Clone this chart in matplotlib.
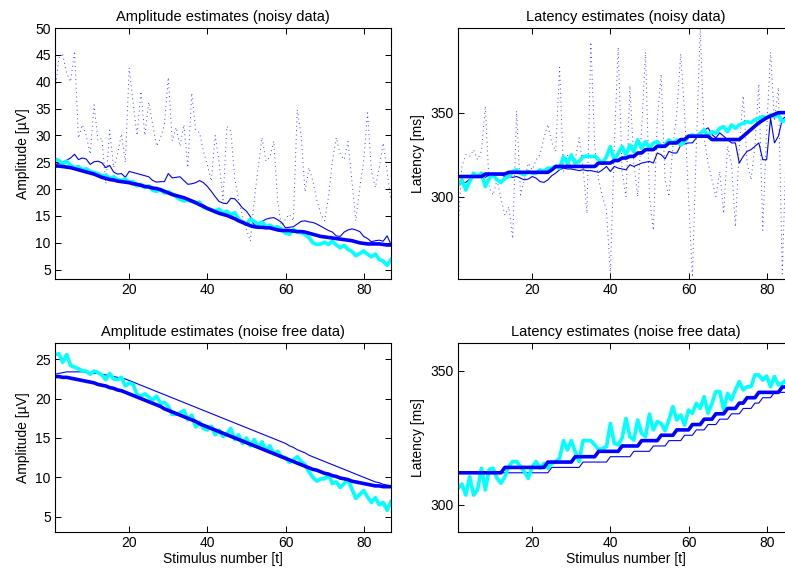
import numpy as np
import matplotlib
matplotlib.use("Agg")
import matplotlib.pyplot as plt

plt.rcParams['font.family'] = ['Liberation Sans', 'DejaVu Sans']
plt.rcParams['font.size'] = 10

stim = np.arange(1, 88)

# --- amplitude, noisy data ---
amp_noisy_raw = [38, 44.5, 45, 41.5, 40, 45.7, 29.5, 32, 30, 26.5,
                 35.7, 29, 29.5, 21, 31, 24, 26.5, 30.3, 25, 42.6,
                 36, 30, 38.2, 30, 36.2, 32, 28, 29.5, 32, 40.8,
                 29, 31.5, 28, 32, 24, 37.9, 31, 30.5, 27, 24.5,
                 21.5, 30, 25, 18, 31.7, 30.8, 22, 18, 15, 12.5,
                 10.3, 18, 24, 29.6, 25.2, 26, 28.9, 17.8, 12.8, 14.5,
                 15.3, 14.1, 34.8, 30, 19.5, 24, 21.5, 18, 15.5, 14.1,
                 18.5, 25.2, 29.6, 26.5, 25.5, 28.9, 21.5, 14.1, 20.3, 25.2,
                 34.2, 23.3, 20.3, 24, 28.6, 23.3, 17.8]
amp_noisy_single = [24.6, 24.8, 25.0, 25.4, 25.8, 26.5, 25.5, 25.8, 25.6, 24.6,
                    25.1, 25.2, 24.9, 24.0, 24.4, 23.2, 22.8, 22.9, 22.2, 23.3,
                    23.1, 22.9, 22.7, 22.5, 22.3, 21.6, 21.3, 21.4, 21.4, 22.9,
                    22.1, 22.2, 22.3, 21.6, 20.9, 21.0, 21.2, 21.6, 21.2, 20.5,
                    19.6, 18.6, 17.7, 17.4, 17.3, 18.3, 18.2, 17.4, 16.5, 15.9,
                    14.9, 13.3, 13.6, 14.0, 14.4, 14.6, 14.7, 14.3, 13.8, 12.8,
                    12.9, 13.0, 13.5, 14.0, 14.1, 13.9, 13.8, 13.5, 13.1, 12.7,
                    12.3, 12.0, 11.3, 11.2, 12.0, 12.4, 12.6, 12.4, 12.1, 11.2,
                    10.8, 10.2, 10.4, 10.5, 10.3, 11.3, 9.7]
amp_noisy_true = [25.6, 25.3, 24.7, 25.2, 24.4, 24.0, 24.2, 23.6, 23.8, 23.3,
                  23.1, 22.9, 22.4, 22.6, 22.0, 22.3, 21.8, 21.6, 21.9, 21.3,
                  21.4, 20.6, 20.9, 20.3, 20.6, 19.8, 19.6, 19.9, 19.3, 19.5,
                  19.1, 18.6, 18.1, 17.8, 18.0, 17.7, 17.4, 17.6, 16.6, 16.4,
                  16.2, 15.8, 16.3, 15.5, 15.9, 15.2, 15.6, 14.4, 13.9, 13.4,
                  14.4, 14.0, 13.4, 13.9, 13.0, 13.3, 12.8, 13.0, 12.5, 11.8,
                  11.6, 12.5, 12.0, 11.9, 11.6, 11.0, 10.0, 9.7, 9.8, 10.1,
                  9.7, 10.3, 9.6, 9.1, 9.5, 8.8, 8.4, 7.6, 8.0, 8.5,
                  7.9, 7.4, 7.9, 6.9, 6.6, 5.8, 6.9]
amp_noisy_smooth = [24.3, 24.3, 24.2, 24.1, 24.0, 23.8, 23.6, 23.4, 23.2, 23.0,
                    22.8, 22.5, 22.2, 22.0, 21.8, 21.7, 21.5, 21.4, 21.3, 21.2,
                    21.0, 20.9, 20.7, 20.5, 20.4, 20.2, 20.1, 19.9, 19.6, 19.3,
                    19.0, 18.8, 18.6, 18.4, 18.1, 17.8, 17.5, 17.1, 16.8, 16.4,
                    16.1, 15.8, 15.5, 15.3, 15.1, 14.8, 14.5, 14.1, 13.8, 13.5,
                    13.2, 13.0, 12.9, 12.9, 12.8, 12.8, 12.6, 12.4, 12.3, 12.3,
                    12.3, 12.2, 12.1, 12.1, 12.0, 11.8, 11.6, 11.4, 11.2, 11.1,
                    11.0, 10.9, 10.8, 10.7, 10.6, 10.5, 10.4, 10.2, 10.0, 9.9,
                    9.8, 9.8, 9.8, 9.8, 9.7, 9.6, 9.6]

# --- latency, noisy data ---
lat_noisy_raw = [281, 318, 325, 324, 328, 322, 327, 354, 305, 301,
                 310, 299, 289, 294, 275, 351, 301, 310, 320, 316,
                 322, 325, 335, 343, 332, 327, 377, 315, 325, 316,
                 322, 335, 318, 290, 392, 330, 310, 300, 292, 254,
                 330, 389, 315, 300, 366, 320, 300, 340, 386, 300,
                 280, 345, 373, 310, 300, 330, 350, 385, 350, 300,
                 252, 330, 400, 335, 320, 310, 300, 315, 290, 330,
                 320, 282, 330, 360, 320, 310, 330, 367, 280, 340,
                 386, 345, 365, 254, 330, 345, 340]
lat_noisy_single = [309, 308, 308.5, 310.5, 312, 313, 312, 311.5, 313, 312.5,
                    313, 313, 312, 312, 311.5, 312, 311, 310, 310.5, 312,
                    311, 309, 308.5, 310, 312.5, 314, 316, 317, 316.5, 316.5,
                    316, 315.5, 316, 315.5, 315.5, 315, 314.5, 316, 318, 315,
                    318, 317, 316.5, 316, 319, 318, 319, 320, 320.5, 321,
                    320, 326, 325, 322.5, 327, 326, 326, 330.5, 331.5, 332,
                    332, 335, 337, 339.5, 341, 337, 335, 338, 336, 334,
                    332, 332, 320, 324, 327, 328, 330, 332, 322, 322,
                    346.8, 332, 336, 346, 348, 348, 349]
lat_noisy_true = [307, 310, 304, 309, 314, 312, 314, 306, 311, 313,
                  310, 308.4, 311, 312, 315, 316, 314, 313, 315, 314,
                  314, 316, 315, 317, 317, 318, 317, 323.8, 319.9, 324.8,
                  319.9, 320.9, 323.8, 324.2, 323.8, 324.2, 321.9, 319.9, 323.8, 329.8,
                  321.9, 325.8, 329.8, 324.8, 330.8, 326.8, 333.8, 328.8, 332.8, 328.8,
                  331.8, 332.8, 329.8, 330.8, 333.8, 331.8, 333.8, 330.8, 332.8, 335.8,
                  336.8, 335.8, 337.7, 339.7, 335.8, 338.7, 337.7, 340.7, 341.7, 338.7,
                  342.7, 340.7, 342.7, 343.7, 344.7, 344, 345.7, 346.7, 347.7, 346.7,
                  348.6, 347.7, 348.6, 344.7, 345.7, 346, 347]
lat_noisy_smooth = [312, 312, 312, 312, 312, 312, 312, 313.5, 313.5, 313.5,
                    313.5, 313.5, 313.5, 314.5, 314.5, 314.5, 314.5, 314.5, 314.5, 314.5,
                    314.5, 314.5, 314.5, 314.5, 316, 318, 318, 318, 318, 318,
                    318, 318, 318, 318, 318, 318, 320, 320, 320, 320,
                    321.5, 321.5, 323, 323, 324, 324, 326, 326, 328, 328,
                    328, 330, 330, 330, 332, 332, 332, 334, 334, 336,
                    336, 336, 336, 336, 336, 334, 334, 334, 334, 334,
                    334, 334, 334, 336, 338, 340, 342, 344, 345.5, 347,
                    348, 349, 350, 350, 350, 350, 350]

# --- amplitude, noise free data ---
amp_clean_true = [25.6, 25.7, 24.6, 25.6, 24.2, 24.0, 23.8, 23.5, 23.5, 23.1,
                  23.5, 23.3, 23.0, 22.4, 23.2, 22.5, 22.4, 22.7, 21.6, 22.0,
                  21.8, 20.5, 20.3, 20.6, 20.2, 19.8, 20.3, 19.4, 19.5, 19.0,
                  18.0, 18.0, 18.2, 18.5, 17.3, 17.9, 16.4, 17.0, 16.2, 16.0,
                  16.5, 15.4, 16.0, 15.2, 15.5, 16.2, 14.8, 15.4, 14.3, 15.0,
                  14.0, 14.8, 13.8, 14.5, 13.4, 14.0, 13.0, 13.3, 12.6, 12.5,
                  11.9, 12.2, 12.6, 12.0, 11.6, 10.7, 10.0, 9.5, 9.8, 9.8,
                  10.3, 9.2, 9.4, 8.7, 9.2, 9.7, 8.5, 7.3, 7.8, 8.3,
                  7.5, 6.8, 7.4, 6.5, 6.8, 5.8, 6.9]
amp_clean_single = [23.1, 23.2, 23.3, 23.4, 23.4, 23.4, 23.4, 23.4, 23.3, 23.3,
                    23.2, 23.2, 23.1, 23.0, 22.9, 22.8, 22.7, 22.6, 22.5, 22.3,
                    22.1, 21.9, 21.7, 21.5, 21.3, 21.1, 20.9, 20.7, 20.5, 20.3,
                    20.1, 19.9, 19.7, 19.5, 19.3, 19.1, 18.9, 18.7, 18.5, 18.3,
                    18.1, 17.9, 17.7, 17.5, 17.3, 17.1, 16.9, 16.7, 16.5, 16.3,
                    16.1, 15.9, 15.7, 15.5, 15.3, 15.1, 14.9, 14.7, 14.5, 14.3,
                    14.0, 13.8, 13.5, 13.3, 13.1, 12.8, 12.6, 12.4, 12.2, 12.0,
                    11.8, 11.6, 11.4, 11.2, 11.0, 10.8, 10.6, 10.4, 10.2, 10.0,
                    9.8, 9.6, 9.4, 9.3, 9.1, 9.0, 8.9]
amp_clean_smooth = [22.8, 22.8, 22.7, 22.7, 22.6, 22.5, 22.4, 22.3, 22.2, 22.1,
                    22.0, 21.8, 21.7, 21.6, 21.4, 21.3, 21.1, 21.0, 20.8, 20.6,
                    20.4, 20.2, 20.0, 19.8, 19.6, 19.4, 19.2, 19.0, 18.7, 18.5,
                    18.3, 18.1, 17.9, 17.7, 17.5, 17.3, 17.1, 16.8, 16.6, 16.4,
                    16.2, 16.0, 15.8, 15.6, 15.4, 15.2, 15.0, 14.8, 14.6, 14.4,
                    14.2, 14.0, 13.8, 13.6, 13.4, 13.2, 13.0, 12.8, 12.6, 12.4,
                    12.2, 12.0, 11.8, 11.6, 11.4, 11.2, 11.0, 10.9, 10.7, 10.5,
                    10.4, 10.2, 10.1, 9.9, 9.8, 9.7, 9.5, 9.4, 9.3, 9.2,
                    9.1, 9.0, 8.9, 8.9, 8.8, 8.8, 8.8]

# --- latency, noise free data ---
lat_clean_true = [306.2, 307.8, 303.7, 310.5, 303.7, 305.6, 313.7, 305.6, 313.3, 313.7,
                  309.9, 308.1, 310.5, 314.3, 316.2, 316.2, 314.3, 312.4, 309.9, 314.3,
                  316.2, 313.7, 315.5, 313.7, 315.5, 316.2, 317.4, 324.0, 320.5, 324.0,
                  319.9, 316.2, 324.0, 324.0, 324.0, 322.4, 320.5, 321.1, 321.7, 330.4,
                  323.0, 322.4, 324.9, 332.3, 325.5, 324.2, 331.7, 326.7, 325.5, 333.9,
                  328.0, 331.1, 330.4, 327.7, 331.7, 336.7, 331.7, 333.6, 329.8, 335.4,
                  334.2, 337.9, 336.0, 340.4, 334.2, 337.9, 342.3, 342.3, 335.4, 341.6,
                  339.2, 342.9, 346.0, 342.9, 344.1, 344.1, 348.5, 348.5, 346.6, 348.1,
                  344.1, 347.9, 344.8, 345.4, 346.6, 345.0, 347.0]
lat_clean_single = [312] * 24 + [314] * 8 + [316] * 7 + [318] * 6 + [320] * 5 + \
                   [322] * 4 + [324] * 4 + [326] * 3 + [328] * 3 + [330] * 3 + \
                   [332] * 3 + [334] * 3 + [336] * 3 + [338] * 2 + [340] * 3 + [342] * 6
lat_clean_smooth = [312] * 12 + [314] * 11 + [316] * 7 + [318] * 6 + [320] * 6 + \
                   [322] * 5 + [324] * 5 + [326] * 4 + [328] * 4 + [330] * 3 + \
                   [332] * 3 + [334] * 3 + [336] * 3 + [338] * 2 + [340] * 3 + \
                   [342] * 6 + [344] * 4

fig = plt.figure(figsize=(7.85, 5.73), dpi=100)
W, H = 785.0, 573.0


def make_axes(left, top, bottom):
    return fig.add_axes([left / W, 1 - bottom / H, 336 / W, (bottom - top) / H])


def style(ax, title, ylabel, yticks, ylim, xlabel=None):
    ax.set_xlim(1, 87)
    ax.set_ylim(*ylim)
    ax.set_xticks([20, 40, 60, 80])
    ax.set_yticks(yticks)
    ax.tick_params(direction='in', length=4, width=0.7, top=True, right=True,
                   labelsize=10, pad=3)
    for s in ax.spines.values():
        s.set_linewidth(0.8)
    ax.set_title(title, fontsize=10.5, pad=5)
    ax.set_ylabel(ylabel, fontsize=10, labelpad=4)
    if xlabel:
        ax.set_xlabel(xlabel, fontsize=10, labelpad=1)


def draw(ax, raw, single, true, smooth):
    if raw is not None:
        # single-trial estimates, sparse dots
        ax.plot(stim, raw, color='#2020ff', lw=0.7, ls=(0, (1, 3.5)), alpha=0.85)
    ax.plot(stim, single, color='#0000ff', lw=0.8)
    ax.plot(stim, true, color='#00ffff', lw=2.6)
    ax.plot(stim, smooth, color='#0000ff', lw=2.6)


ax1 = make_axes(55, 28, 279)
draw(ax1, amp_noisy_raw, amp_noisy_single, amp_noisy_true, amp_noisy_smooth)
style(ax1, 'Amplitude estimates (noisy data)', 'Amplitude [\u00b5V]',
      range(5, 51, 5), (3.27, 50))

ax2 = make_axes(458, 28, 279)
draw(ax2, lat_noisy_raw, lat_noisy_single, lat_noisy_true, lat_noisy_smooth)
style(ax2, 'Latency estimates (noisy data)', 'Latency [ms]',
      [300, 350], (251, 400.4))

ax3 = make_axes(55, 343.3, 532.3)
draw(ax3, None, amp_clean_single, amp_clean_true, amp_clean_smooth)
style(ax3, 'Amplitude estimates (noise free data)', 'Amplitude [\u00b5V]',
      range(5, 26, 5), (3, 27.03), xlabel='Stimulus number [t]')

ax4 = make_axes(458, 343.3, 532.3)
draw(ax4, None, lat_clean_single, lat_clean_true, lat_clean_smooth)
style(ax4, 'Latency estimates (noise free data)', 'Latency [ms]',
      [300, 350], (289.8, 360.3), xlabel='Stimulus number [t]')

fig.savefig('out.png', dpi=100)
